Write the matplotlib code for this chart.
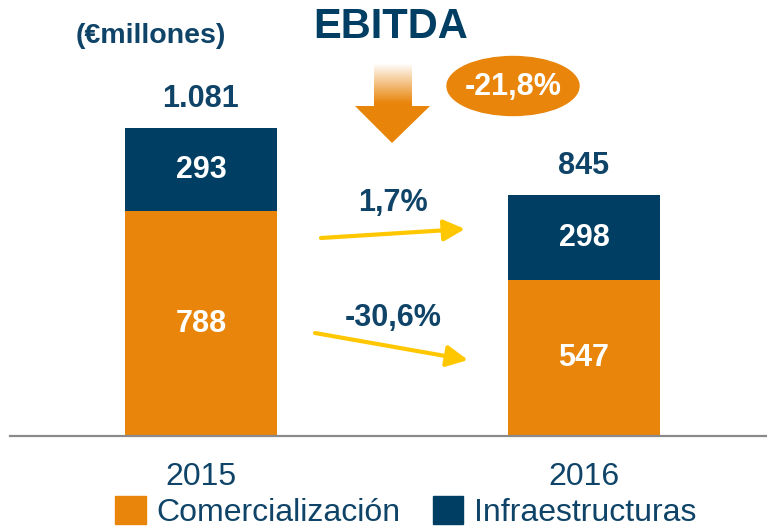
import numpy as np
import matplotlib.pyplot as plt
from matplotlib.patches import Polygon, Ellipse, Patch

plt.rcParams['font.family'] = ['Liberation Sans', 'DejaVu Sans']

years = ["2015", "2016"]
comercializacion = [788, 547]
infraestructuras = [293, 298]
totales = ["1.081", "845"]
variaciones = ["1,7%", "-30,6%"]
var_total = "-21,8%"

naranja = "#E8850A"
azul = "#003F63"
texto = "#0F4468"
amarillo = "#FFC700"

fig = plt.figure(figsize=(7.67, 5.27), dpi=100)
ax = fig.add_axes([10/767, 91/527, 757/767, 436/527])
x = np.arange(len(years))
w = 0.397
ax.bar(x, comercializacion, w, color=naranja)
ax.bar(x, infraestructuras, w, bottom=comercializacion, color=azul)
ax.set_xlim(-0.4987, 1.478)
ax.set_ylim(0, 1529)
for s in ["top", "right", "left"]:
    ax.spines[s].set_visible(False)
ax.spines["bottom"].set_color("#8A8A8A")
ax.spines["bottom"].set_linewidth(1.6)
ax.set_yticks([])
ax.set_xticks(x)
ax.set_xticklabels(years, fontsize=23, color=texto)
ax.tick_params(axis="x", length=0, pad=19)

for i in range(len(years)):
    c = comercializacion[i]
    f = infraestructuras[i]
    ax.text(x[i], c / 2, str(c), ha="center", va="center", color="white",
            fontsize=22, fontweight="bold")
    ax.text(x[i], c + f / 2, str(f), ha="center", va="center", color="white",
            fontsize=22, fontweight="bold")
    ax.annotate(totales[i], (x[i], c + f), xytext=(0, 21), textcoords="offset points",
                ha="center", va="center", color=texto, fontsize=22, fontweight="bold")

# capa de anotaciones en pixeles
ov = fig.add_axes([0, 0, 1, 1], zorder=5)
ov.set_xlim(0, 767)
ov.set_ylim(527, 0)
ov.axis("off")

ov.text(391, 27, "EBITDA", ha="center", va="center", fontsize=30,
        fontweight="bold", color=azul)
ov.text(151, 36, "(€millones)", ha="center", va="center", fontsize=20.5,
        fontweight="bold", color=texto)

# flecha grande con degradado
pts = [(374, 63), (412, 63), (412, 106), (430, 106), (392, 143),
       (355, 106), (374, 106)]
poly = Polygon(pts, closed=True, facecolor="none", edgecolor="none")
ov.add_patch(poly)
grad = np.linspace(0, 1, 100)
grad = np.clip(grad / 0.5, 0, 1)[:, None]
rgb = np.array([int(naranja[k:k+2], 16) / 255 for k in (1, 3, 5)])
img = np.ones((100, 1, 3)) * (1 - grad[..., None]) + rgb * grad[..., None]
im = ov.imshow(img, extent=(355, 430, 143, 63), aspect="auto", zorder=4)
im.set_clip_path(poly)
ov.set_xlim(0, 767)
ov.set_ylim(527, 0)

ov.add_patch(Ellipse((513, 86), 132, 59, color=naranja))
ov.text(513, 87, var_total, ha="center", va="center", fontsize=22,
        fontweight="bold", color="white")

# flechas amarillas
ov.annotate("", xy=(465, 229), xytext=(321, 238),
            arrowprops=dict(arrowstyle="-|>", lw=3, color=amarillo,
                            mutation_scale=32, shrinkA=0, shrinkB=0))
ov.annotate("", xy=(468, 360), xytext=(315, 333),
            arrowprops=dict(arrowstyle="-|>", lw=3, color=amarillo,
                            mutation_scale=32, shrinkA=0, shrinkB=0))
ov.text(393, 203, variaciones[0], ha="center", va="center", fontsize=22,
        fontweight="bold", color=texto)
ov.text(393, 318, variaciones[1], ha="center", va="center", fontsize=22,
        fontweight="bold", color=texto)

handles = [Patch(color=naranja, label="Comercialización"),
           Patch(color=azul, label="Infraestructuras")]
leg = fig.legend(handles=handles, loc="center", bbox_to_anchor=(406/767, 1 - 512/527),
                 ncol=2, frameon=False, fontsize=23, handlelength=0.95,
                 handleheight=0.95, handletextpad=0.35, columnspacing=1.0)
for t in leg.get_texts():
    t.set_color(texto)

fig.savefig("out.png", dpi=100)
